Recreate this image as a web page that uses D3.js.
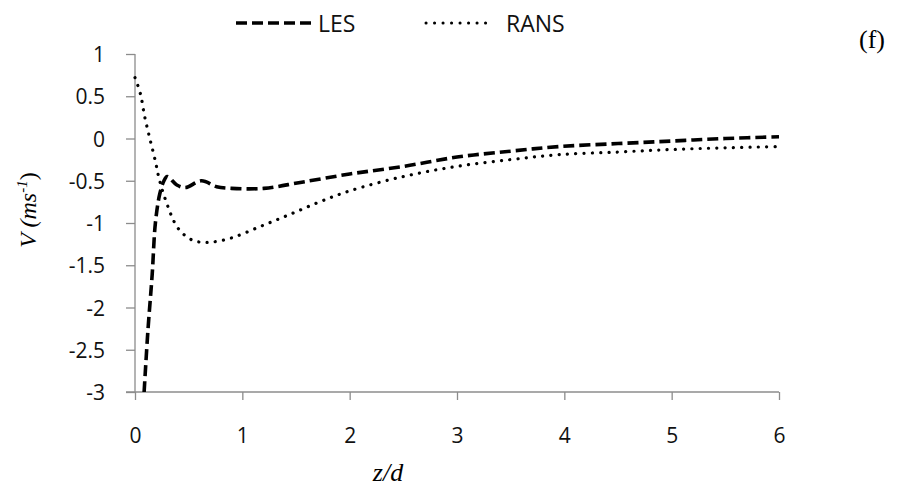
<!DOCTYPE html>
<html>
<head>
<meta charset="utf-8">
<script src="https://cdn.jsdelivr.net/npm/d3@7"></script>
<style>
  html, body { margin: 0; padding: 0; background: #fff; }
  svg { display: block; }
  .tick text { font-family: "Open Sans", sans-serif; font-size: 21px; fill: #111; }
  .legend text { font-family: "Open Sans", sans-serif; font-size: 23px; fill: #111; }
  .serif { font-family: "Liberation Serif", "Times New Roman", serif; fill: #000; }
</style>
</head>
<body>
<svg id="chart" width="920" height="488"></svg>
<script>
// LES (dashed) series
const lesZ = [0.085, 0.12, 0.16, 0.19, 0.23, 0.27, 0.3, 0.39, 0.47, 0.62, 0.76, 0.9, 1.2, 1.54, 2.0, 2.5, 3.0, 3.5, 3.96, 4.5, 5.0, 5.5, 6.0];
const lesV = [-3.0, -2.28, -1.61, -1.0, -0.66, -0.5, -0.45, -0.55, -0.58, -0.5, -0.57, -0.59, -0.59, -0.52, -0.42, -0.33, -0.22, -0.15, -0.095, -0.06, -0.03, 0.0, 0.02];

// RANS (dotted) series
const ransZ = [0.0, 0.05, 0.09, 0.14, 0.19, 0.22, 0.28, 0.4, 0.53, 0.67, 0.89, 1.17, 1.44, 1.72, 2.0, 2.5, 3.0, 3.5, 3.96, 4.5, 5.0, 5.5, 6.0];
const ransV = [0.72, 0.53, 0.26, -0.01, -0.27, -0.45, -0.71, -1.06, -1.2, -1.23, -1.18, -1.04, -0.9, -0.75, -0.62, -0.45, -0.33, -0.25, -0.19, -0.16, -0.13, -0.11, -0.095];

const xTicks = [0, 1, 2, 3, 4, 5, 6];
const yTicks = [1, 0.5, 0, -0.5, -1, -1.5, -2, -2.5, -3];

const svg = d3.select("#chart");
const plotLeft = 135, plotRight = 779, plotTop = 54, plotBottom = 392;

const x = d3.scaleLinear().domain([0, 6]).range([plotLeft, plotRight]);
const y = d3.scaleLinear().domain([-3, 1]).range([plotBottom, plotTop]);

const axisColor = "#8c8c8c";

// y axis
const yAxis = svg.append("g")
  .attr("transform", "translate(" + plotLeft + ",0)")
  .call(d3.axisLeft(y).tickValues(yTicks).tickSize(9).tickPadding(21)
    .tickFormat(function (d) { return String(d); }));
yAxis.selectAll("path, line").attr("stroke", axisColor).attr("stroke-width", 1.3);
yAxis.select(".domain").attr("d", "M0," + plotTop + "V" + plotBottom);
yAxis.selectAll(".tick text").attr("dy", "0.36em");

// x axis
const xAxis = svg.append("g")
  .attr("transform", "translate(0," + plotBottom + ")")
  .call(d3.axisBottom(x).tickValues(xTicks).tickSize(8).tickPadding(35)
    .tickFormat(function (d) { return String(d); }));
xAxis.selectAll("path, line").attr("stroke", axisColor).attr("stroke-width", 1.3);
xAxis.select(".domain").attr("d", "M" + (plotLeft - 9) + ",0H" + plotRight);
xAxis.selectAll(".tick text").attr("dy", "0.36em");

const line = d3.line()
  .x(function (d) { return x(d[0]); })
  .y(function (d) { return y(d[1]); })
  .curve(d3.curveCatmullRom);

const lesData = lesZ.map(function (z, i) { return [z, lesV[i]]; });
const ransData = ransZ.map(function (z, i) { return [z, ransV[i]]; });

svg.append("path")
  .datum(ransData)
  .attr("d", line)
  .attr("fill", "none")
  .attr("stroke", "#000")
  .attr("stroke-width", 3.2)
  .attr("stroke-linecap", "round")
  .attr("stroke-dasharray", "0.1 8.2");

svg.append("path")
  .datum(lesData)
  .attr("d", line)
  .attr("fill", "none")
  .attr("stroke", "#000")
  .attr("stroke-width", 3.6)
  .attr("stroke-dasharray", "11 5");

// legend
const legend = svg.append("g").attr("class", "legend");
legend.append("line")
  .attr("x1", 236).attr("x2", 312).attr("y1", 23).attr("y2", 23)
  .attr("stroke", "#000").attr("stroke-width", 3.6).attr("stroke-dasharray", "11 5");
legend.append("text").attr("x", 318).attr("y", 32).text("LES");
legend.append("line")
  .attr("x1", 426).attr("x2", 488).attr("y1", 23).attr("y2", 23)
  .attr("stroke", "#000").attr("stroke-width", 3).attr("stroke-linecap", "round")
  .attr("stroke-dasharray", "0.1 8.4");
legend.append("text").attr("x", 506).attr("y", 32).text("RANS");

// panel label
svg.append("text").attr("class", "serif")
  .attr("x", 859).attr("y", 48).attr("font-size", 26).text("(f)");

// axis titles
svg.append("text").attr("class", "serif")
  .attr("x", 388).attr("y", 481).attr("text-anchor", "middle")
  .attr("font-size", 26).attr("font-style", "italic").text("z/d");

const yt = svg.append("text").attr("class", "serif")
  .attr("transform", "translate(36,210) rotate(-90)")
  .attr("text-anchor", "middle").attr("font-size", 24);
yt.append("tspan").attr("font-style", "italic").text("V (ms");
yt.append("tspan").attr("font-style", "italic").attr("font-size", 15).attr("dy", -9).text("-1");
yt.append("tspan").attr("dy", 9).text(")");
</script>
</body>
</html>
